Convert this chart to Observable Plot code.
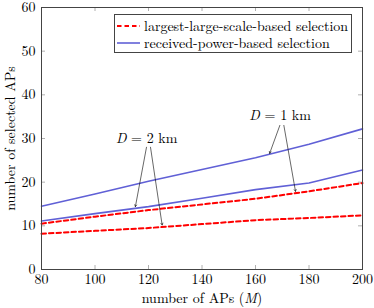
<!DOCTYPE html>
<html><head><meta charset="utf-8">
<script src="https://cdn.jsdelivr.net/npm/d3@7"></script>
<script src="https://cdn.jsdelivr.net/npm/@observablehq/plot@0.6"></script>
<style>
body{margin:0;background:#fff;}
</style>
</head><body>
<div id="wrap" style="position:relative;width:374px;height:308px;"></div>
<script>
const ms = [80, 100, 120, 140, 160, 180, 200];
const rxD1 = [14.5, 17.3, 20.2, 22.9, 25.6, 28.7, 32.2];
const rxD2 = [11.1, 12.8, 14.4, 16.3, 18.3, 19.8, 22.8];
const lsD1 = [10.5, 12.1, 13.6, 14.9, 16.2, 17.9, 19.8];
const lsD2 = [8.2, 8.85, 9.5, 10.4, 11.3, 11.8, 12.4];
const xTicks = [80, 100, 120, 140, 160, 180, 200];
const yTicks = [0, 10, 20, 30, 40, 50, 60];
const seriesNames = ["largest-large-scale-based selection", "received-power-based selection"];
const annTexts = [
  {x: 119.3, y: 30.1, label: "D = 2 km"},
  {x: 169.2, y: 35.3, label: "D = 1 km"}
];
const annArrows = [
  {x1: 119.25, y1: 28.0, x2: 115.1, y2: 14.4},
  {x1: 120.75, y1: 28.0, x2: 125.1, y2: 10.2},
  {x1: 169.1, y1: 33.0, x2: 165.3, y2: 26.6},
  {x1: 170.6, y1: 33.0, x2: 174.95, y2: 17.9}
];

const FONT = '"Latin Modern Roman", "Liberation Serif", serif';
const RED = "#ff0000", BLUE = "#6060d6";
const mk = (ys, key) => ms.map((m, i) => ({m, v: ys[i], key}));
const lines = [
  ...mk(lsD1, "lsD1"), ...mk(lsD2, "lsD2"), ...mk(rxD1, "rxD1"), ...mk(rxD2, "rxD2")
];

const W = 374, H = 308, mL = 41, mR = 12, mT = 7, mB = 39;
const pw = W - mL - mR, ph = H - mT - mB, tk = 4;
const FS = 14;

const chart = Plot.plot({
  width: W, height: H,
  marginLeft: mL, marginRight: mR, marginTop: mT, marginBottom: mB,
  style: {fontFamily: FONT, fontSize: FS + "px", color: "#000", background: "#fff", overflow: "visible"},
  x: {domain: [80, 200]},
  y: {domain: [0, 60]},
  marks: [
    Plot.tickX(xTicks, {x: d => d, stroke: "#b0b0b0", insetTop: ph - tk}),
    Plot.tickX(xTicks, {x: d => d, stroke: "#b0b0b0", insetBottom: ph - tk}),
    Plot.tickY(yTicks, {y: d => d, stroke: "#b0b0b0", insetRight: pw - tk}),
    Plot.tickY(yTicks, {y: d => d, stroke: "#b0b0b0", insetLeft: pw - tk}),
    Plot.axisX({ticks: xTicks, tickSize: 0, tickPadding: 5, label: null, fontSize: FS}),
    Plot.axisY({ticks: yTicks, tickSize: 0, tickPadding: 6, label: null, fontSize: FS}),
    Plot.line(lines.filter(d => d.key.startsWith("ls")), {x: "m", y: "v", z: "key", stroke: RED, strokeWidth: 2, strokeDasharray: "4.5,3"}),
    Plot.line(lines.filter(d => d.key.startsWith("rx")), {x: "m", y: "v", z: "key", stroke: BLUE, strokeWidth: 1.6}),
    Plot.arrow(annArrows, {x1: "x1", y1: "y1", x2: "x2", y2: "y2", stroke: "#000", strokeWidth: 0.6, headLength: 5}),
    Plot.text(annTexts, {x: "x", y: "y", text: "label", fontSize: FS, fill: "#000"}),
    Plot.text(["number of APs (M)"], {frameAnchor: "bottom", textAnchor: "middle", dy: 33, fontSize: FS, fill: "#000"}),
    Plot.text(["number of selected APs"], {frameAnchor: "left", textAnchor: "middle", dx: -31, rotate: -90, fontSize: FS, fill: "#000"}),
    Plot.frame({stroke: "#444", strokeWidth: 1})
  ]
});

// italicize math symbols and force the font inline
chart.setAttribute("font-family", FONT);
chart.querySelectorAll("g, text").forEach(el => {
  if (el.hasAttribute("font-family")) el.setAttribute("font-family", FONT);
});
chart.querySelectorAll("text").forEach(t => {
  t.style.fontFamily = FONT;
  const s = t.textContent;
  if (s === "number of APs (M)") {
    t.innerHTML = 'number of APs (<tspan font-style="italic">M</tspan>)';
  } else if (/^D = \d km$/.test(s)) {
    const n = s.match(/\d/)[0];
    t.innerHTML = '<tspan font-style="italic">D</tspan> = ' + n + ' km';
  }
});
const wrap = document.getElementById("wrap");
wrap.appendChild(chart);

// legend (inside the plot area, top right)
const leg = document.createElement("div");
leg.setAttribute("style", `position:absolute;left:114px;top:14px;width:236px;height:37px;border:1px solid #444;background:#fff;font-family:${FONT.replace(/"/g, "'")};font-size:${FS}px;color:#000;`);
const rows = [
  {name: seriesNames[0], color: RED, dash: "4.5,3", w: 2, top: 3},
  {name: seriesNames[1], color: BLUE, dash: null, w: 1.6, top: 20}
];
rows.forEach(r => {
  const div = document.createElement("div");
  div.setAttribute("style", `position:absolute;left:2px;top:${r.top}px;height:15px;display:flex;align-items:center;white-space:nowrap;line-height:15px;font-family:${FONT.replace(/"/g, "'")};`);
  div.innerHTML = `<svg width="23" height="14" style="margin-right:4px"><line x1="0" x2="23" y1="7" y2="7" stroke="${r.color}" stroke-width="${r.w}" ${r.dash ? `stroke-dasharray="${r.dash}"` : ""}/></svg><span style="font-family:${FONT.replace(/"/g, "'")}">${r.name}</span>`;
  leg.appendChild(div);
});
wrap.appendChild(leg);
</script>
</body></html>
